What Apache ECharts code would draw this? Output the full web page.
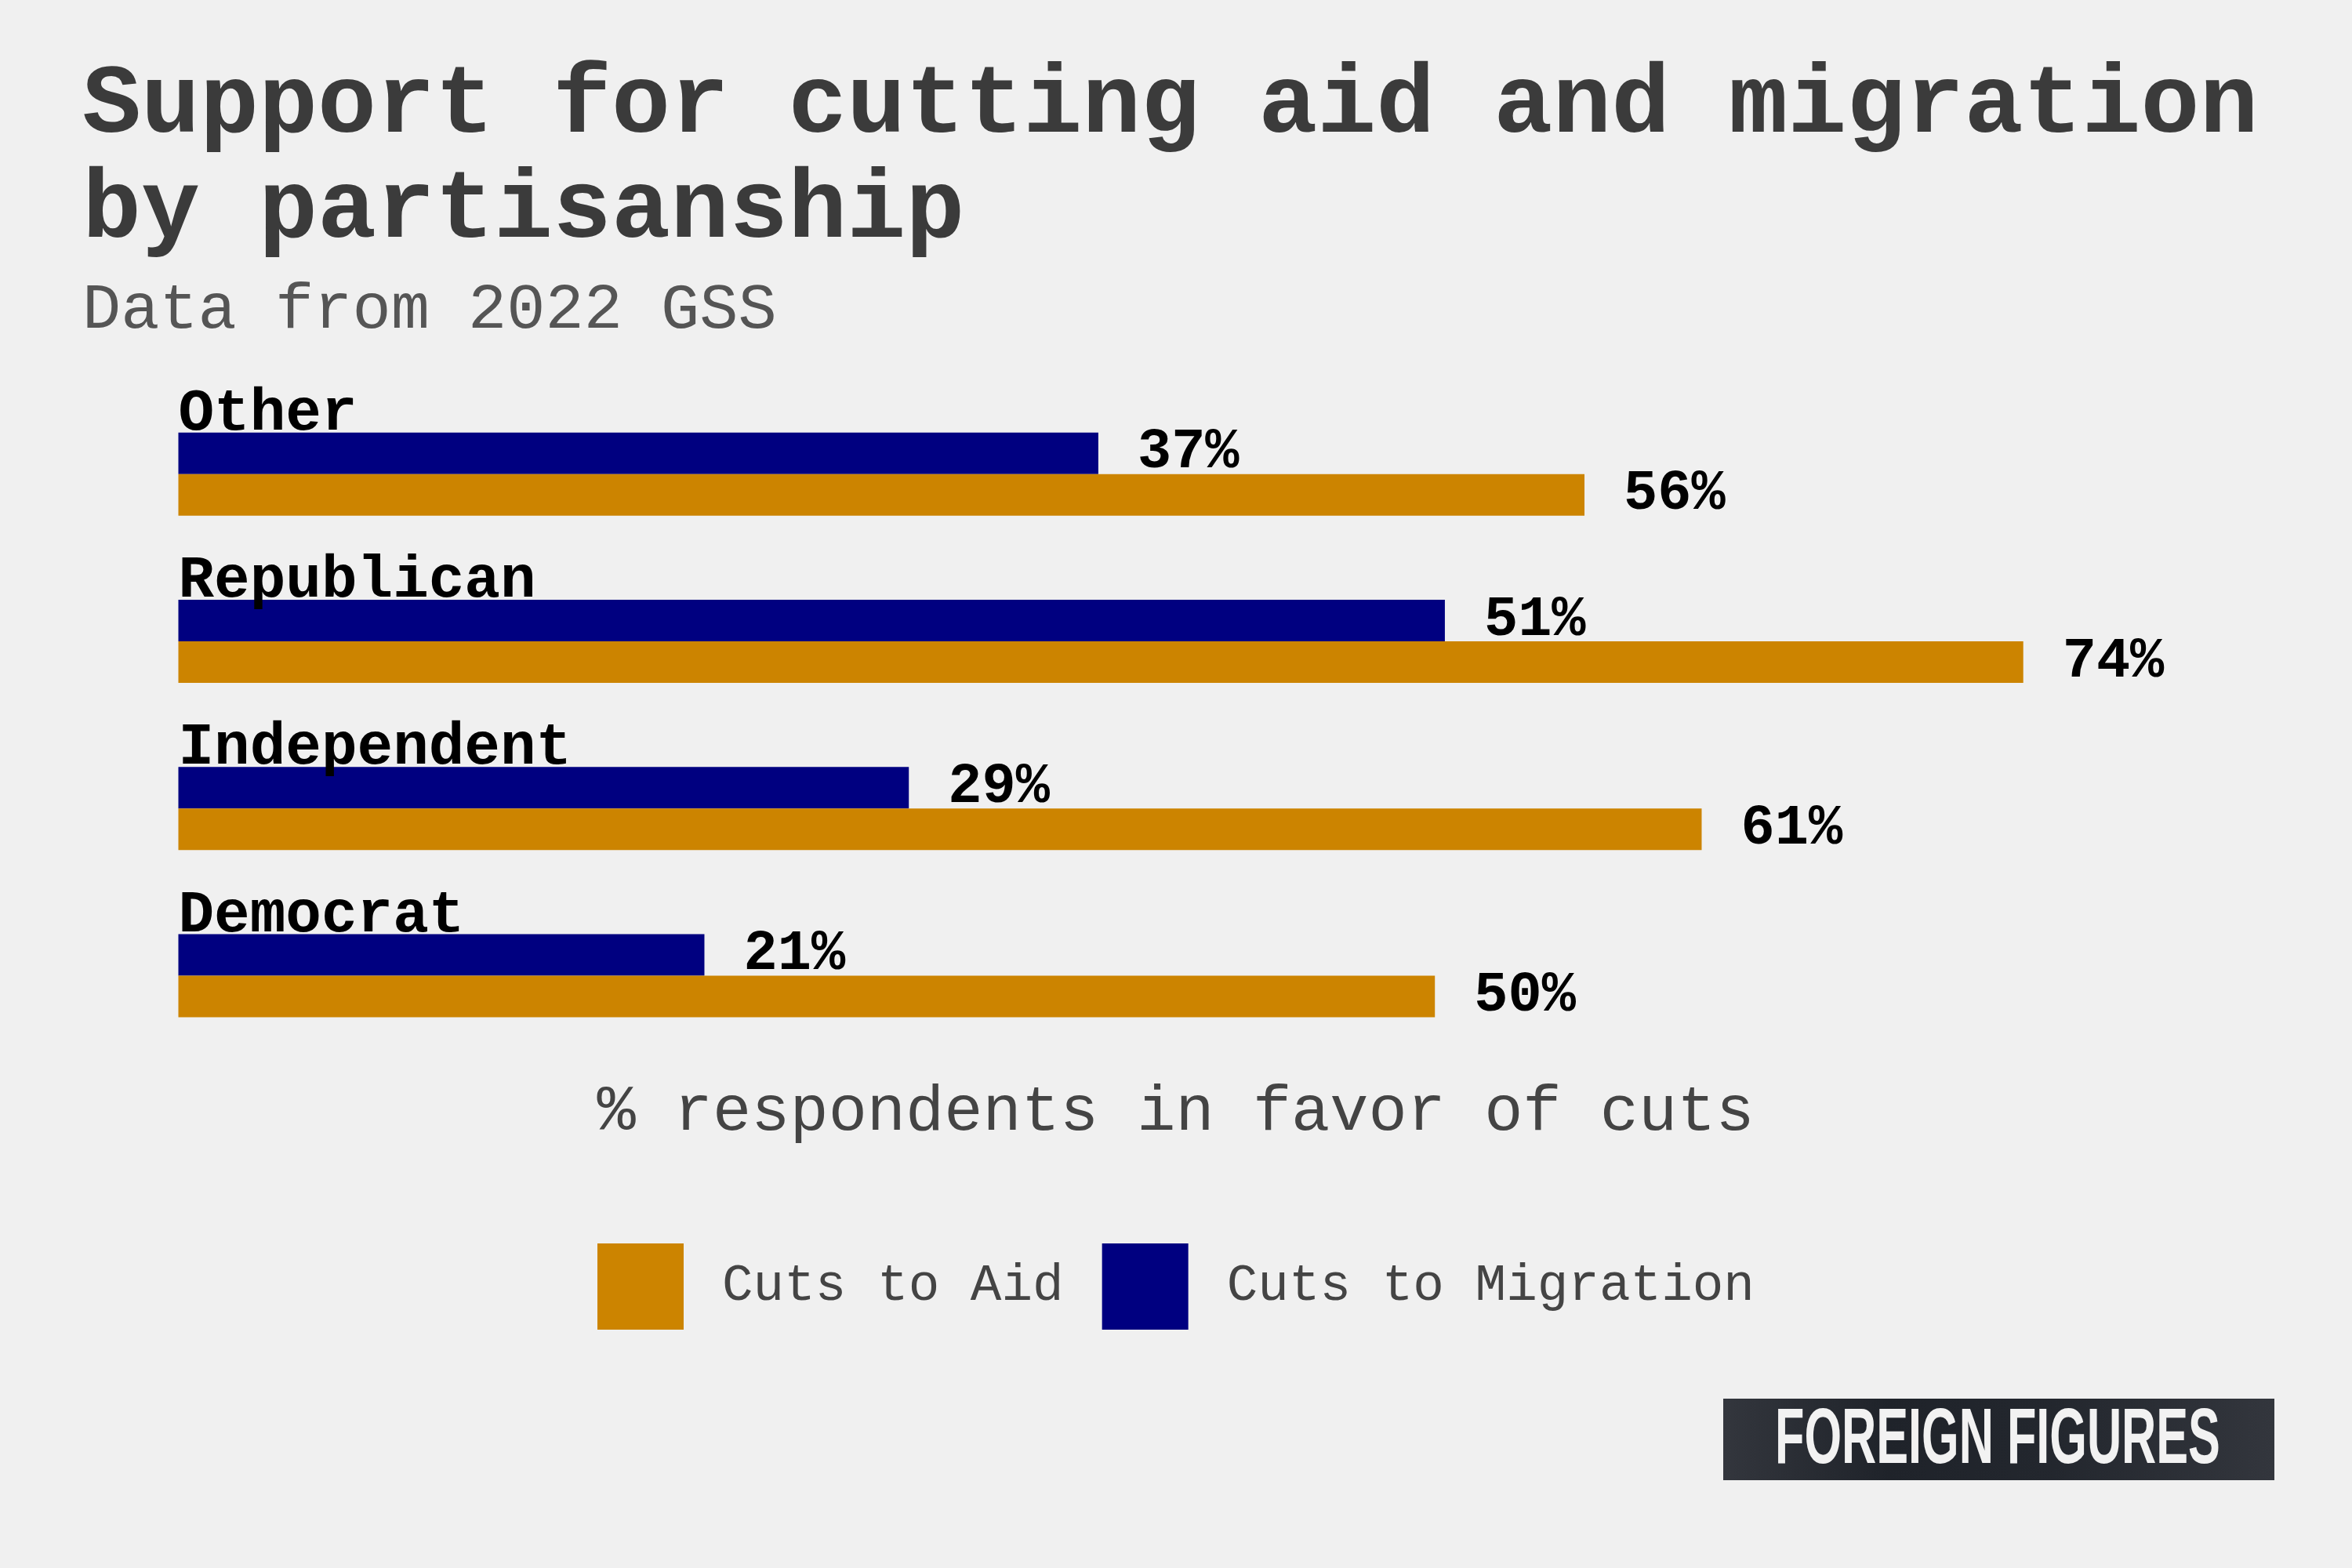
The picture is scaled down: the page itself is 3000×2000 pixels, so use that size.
<!DOCTYPE html>
<html>
<head>
<meta charset="utf-8">
<script src="https://cdn.jsdelivr.net/npm/echarts@6/dist/echarts.min.js"></script>
<style>
html,body{margin:0;padding:0;background:#f0f0f0;}
#chart{width:3000px;height:2000px;}
</style>
</head>
<body>
<div id="chart"></div>
<script>
const categories = ['Democrat', 'Independent', 'Republican', 'Other'];
const aidValues = [50.4, 61.1, 74.0, 56.4];
const migrationValues = [21.1, 29.3, 50.8, 36.9];
const seriesNames = ['Cuts to Aid', 'Cuts to Migration'];

const MONO = '"Courier New", "Liberation Mono", monospace';
const chart = echarts.init(document.getElementById('chart'));

const pctLabel = {
  show: true, position: 'right', distance: 50,
  formatter: p => Math.round(p.value) + '%',
  fontFamily: MONO, fontWeight: 'bold', fontSize: 72, color: '#000000'
};

chart.setOption({
  backgroundColor: '#f0f0f0',
  animation: false,
  title: [
    {
      text: 'Support for cutting aid and migration\nby partisanship',
      left: 105, top: 70, padding: 0,
      textStyle: { fontFamily: MONO, fontWeight: 'bold', fontSize: 125, lineHeight: 134, color: '#3b3b3b' }
    },
    {
      text: 'Data from 2022 GSS',
      left: 105, top: 355, padding: 0,
      textStyle: { fontFamily: MONO, fontWeight: 'normal', fontSize: 82, lineHeight: 82, color: '#555555' }
    }
  ],
  legend: {
    data: seriesNames,
    left: 762, top: 1586, padding: 0,
    itemWidth: 110, itemHeight: 110, itemGap: 49,
    icon: 'rect',
    textStyle: { fontFamily: MONO, fontSize: 66, color: '#444444', padding: [0, 0, 0, 44] }
  },
  grid: { left: 227.5, right: 228.5, top: 498, bottom: 2000 - 1351, containLabel: false },
  xAxis: {
    type: 'value', min: 0, max: 80,
    axisLine: { show: false }, axisTick: { show: false }, axisLabel: { show: false },
    splitLine: { show: false },
    name: '% respondents in favor of cuts',
    nameLocation: 'middle', nameGap: 27,
    nameTextStyle: { fontFamily: MONO, fontSize: 82, color: '#444444' }
  },
  yAxis: {
    type: 'category', data: categories, z: 10,
    axisLine: { show: false }, axisTick: { show: false },
    axisLabel: {
      inside: true, margin: 0, align: 'left', verticalAlign: 'bottom',
      padding: [0, 0, 38, 0],
      fontFamily: MONO, fontWeight: 'bold', fontSize: 76, lineHeight: 76, color: '#000000'
    }
  },
  series: [
    {
      name: 'Cuts to Migration', type: 'bar', data: migrationValues,
      barWidth: 53, barGap: '0%',
      itemStyle: { color: '#000080' },
      label: pctLabel
    },
    {
      name: 'Cuts to Aid', type: 'bar', data: aidValues,
      barWidth: 53, barGap: '0%',
      itemStyle: { color: '#cc8400' },
      label: pctLabel
    }
  ],
  graphic: [
    {
      type: 'rect', left: 2198, top: 1784, z: 20,
      shape: { width: 703, height: 104 },
      style: { fill: new echarts.graphic.LinearGradient(0, 0, 1, 0, [
        { offset: 0, color: '#33363d' },
        { offset: 0.3, color: '#1f232a' },
        { offset: 0.6, color: '#23272e' },
        { offset: 1, color: '#33363d' }
      ]) }
    },
    {
      type: 'text', x: 2548, y: 1838, z: 21,
      scaleX: 0.612, scaleY: 1,
      style: {
        text: 'FOREIGN FIGURES', x: 0, y: 0, align: 'center', verticalAlign: 'middle',
        font: 'bold 100px "Liberation Sans", Arial, sans-serif', fill: '#f2f2f2',
        shadowBlur: 6, shadowColor: 'rgba(0,0,0,0.8)', shadowOffsetY: 3
      }
    }
  ]
});
</script>
</body>
</html>
